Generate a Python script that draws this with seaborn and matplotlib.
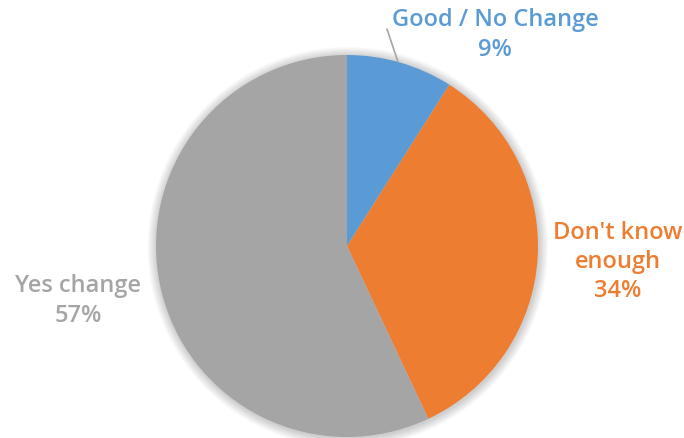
import matplotlib
matplotlib.use("Agg")
import matplotlib.pyplot as plt
import seaborn as sns

categories = ["Good / No Change", "Don't know\nenough", "Yes change"]
shares = [9, 34, 57]
colors = ["#5B9BD5", "#ED7D31", "#A5A5A5"]

sns.set_theme(style="white")
plt.rcParams["font.family"] = ["Open Sans", "DejaVu Sans"]

W, H = 684, 439
fig = plt.figure(figsize=(W / 100, H / 100), dpi=100)
fig.patch.set_facecolor("white")

# pie square: centre (347, 247) px from top-left, radius 191 px
cx, cy, r = 347, 247, 191
ax = fig.add_axes([(cx - r) / W, (H - cy - r) / H, 2 * r / W, 2 * r / H])
ax.axis("off")

# soft drop shadow behind the pie
for k in range(8):
    ax.add_patch(plt.Circle((0.004, -0.006), 1.0 + 0.006 * (k + 1),
                            color="black", alpha=0.025, lw=0, zorder=0,
                            clip_on=False))

wedges, _ = ax.pie(shares, colors=colors, startangle=90, counterclock=False,
                   radius=1.0, wedgeprops=dict(linewidth=0))
for w in wedges:
    w.set_zorder(2)

ax.set_xlim(-1, 1)
ax.set_ylim(-1, 1)
ax.set_aspect("equal")

def to_data(px, py):
    return (px - cx) / r, (cy - py) / r

label_pos = [(495, 35), (618, 262), (78, 301)]
for name, val, col, (px, py) in zip(categories, shares, colors, label_pos):
    x, y = to_data(px, py)
    ax.text(x, y, f"{name}\n{val}%", color=col, fontsize=17, fontweight="semibold",
            ha="center", va="center", linespacing=1.3, clip_on=False, zorder=3)

# leader line for the small slice
x0, y0 = to_data(387, 30)
x1, y1 = to_data(398, 63)
ax.plot([x0, x1], [y0, y1], color="#A5A5A5", lw=1.2, clip_on=False, zorder=3)

fig.savefig("out.png", dpi=100, facecolor="white")
